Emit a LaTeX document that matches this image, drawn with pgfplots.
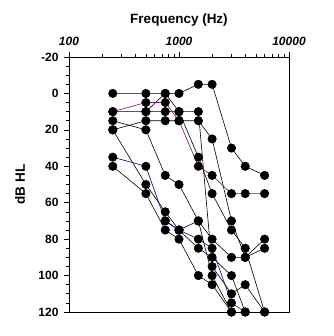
\documentclass[border=0pt]{standalone}
\usepackage{fontspec}
\setmainfont{Liberation Sans}
\usepackage{pgfplots}
\pgfplotsset{compat=1.18}
\definecolor{purp}{RGB}{128,0,128}
\definecolor{navy}{RGB}{0,0,128}
\begin{document}
\begin{tikzpicture}
\begin{semilogxaxis}[
  scale only axis, width=220pt, height=255pt,
  at={(0,0)}, anchor=south west,
  xmin=100, xmax=10000, ymin=-20, ymax=120, y dir=reverse,
  xtick pos=upper, xticklabel pos=upper, ytick pos=left,
  xtick={100,1000,10000},
  xticklabels={\textbf{\textit{100}},\textbf{\textit{1000}},\textbf{\textit{10000}}},
  minor xtick={200,300,400,500,600,700,800,900,2000,3000,4000,5000,6000,7000,8000,9000},
  ytick={-20,0,20,40,60,80,100,120},
  minor ytick={-15,-10,-5,5,10,15,25,30,35,45,50,55,65,70,75,85,90,95,105,110,115},
  tick align=outside,
  major tick length=5pt, minor tick length=3pt,
  tick style={black, line width=0.6pt},
  axis line style={line width=0.8pt},
  /pgf/number format/assume math mode=true,
  yticklabel style={font=\bfseries\fontsize{12}{14}\selectfont, xshift=-2pt},
  xticklabel style={font=\fontsize{12}{14}\selectfont, yshift=3pt},
  xlabel={\textbf{Frequency (Hz)}},
  xlabel style={font=\fontsize{13.5}{15}\selectfont, at={(axis description cs:0.5,1.1451)}, anchor=center},
  ylabel={\textbf{dB HL}},
  ylabel style={font=\fontsize{13.5}{15}\selectfont, at={(axis description cs:-0.2227,0.5)}, anchor=center},
  every axis plot/.append style={line width=0.6pt, mark=*, mark size=4.2pt, mark options={fill=black, draw=black, solid}},
  clip=false,
]
% S6
\addplot[black] coordinates {(250,10) (500,10) (750,10) (1000,10) (1500,10) (2000,95) (3000,110) (4000,105) (6000,120)};
% S7
\addplot[black] coordinates {(500,10) (750,0) (1000,10) (1500,35) (2000,55) (3000,75) (4000,85) (6000,120)};
% S5
\addplot[black] coordinates {(250,20) (500,15) (750,15) (1000,15) (1500,15) (2000,25) (3000,70) (4000,90) (6000,85)};
% S4
\addplot[black] coordinates {(250,15) (500,20) (750,45) (1000,50) (1500,70) (2000,80) (3000,90) (4000,90) (6000,80)};
% S8
\addplot[black] coordinates {(250,20) (500,50) (750,65) (1000,75) (1500,85) (2000,90) (3000,100) (4000,120)};
% S10
\addplot[black] coordinates {(750,70) (1000,75) (1500,70) (2000,100) (3000,120)};
% S9
\addplot[black] coordinates {(250,40) (500,55) (750,75) (1000,80) (1500,100) (2000,105) (3000,120)};
% S1
\addplot[black] coordinates {(250,0) (500,0) (750,0) (1000,0) (1500,-5) (2000,-5) (3000,30) (4000,40) (6000,45)};
% S2 purple
\addplot[purp] coordinates {(250,10) (500,5) (750,5) (1000,15) (1500,40) (2000,45) (3000,55) (4000,55) (6000,55)};
% S3 navy
\addplot[navy] coordinates {(250,35) (500,40) (750,70) (1000,75) (1500,80) (2000,85) (3000,115) (4000,120)};
\end{semilogxaxis}
\pgfresetboundingbox
\path (-69pt,-24pt) rectangle (264pt,312pt);
\end{tikzpicture}
\end{document}
